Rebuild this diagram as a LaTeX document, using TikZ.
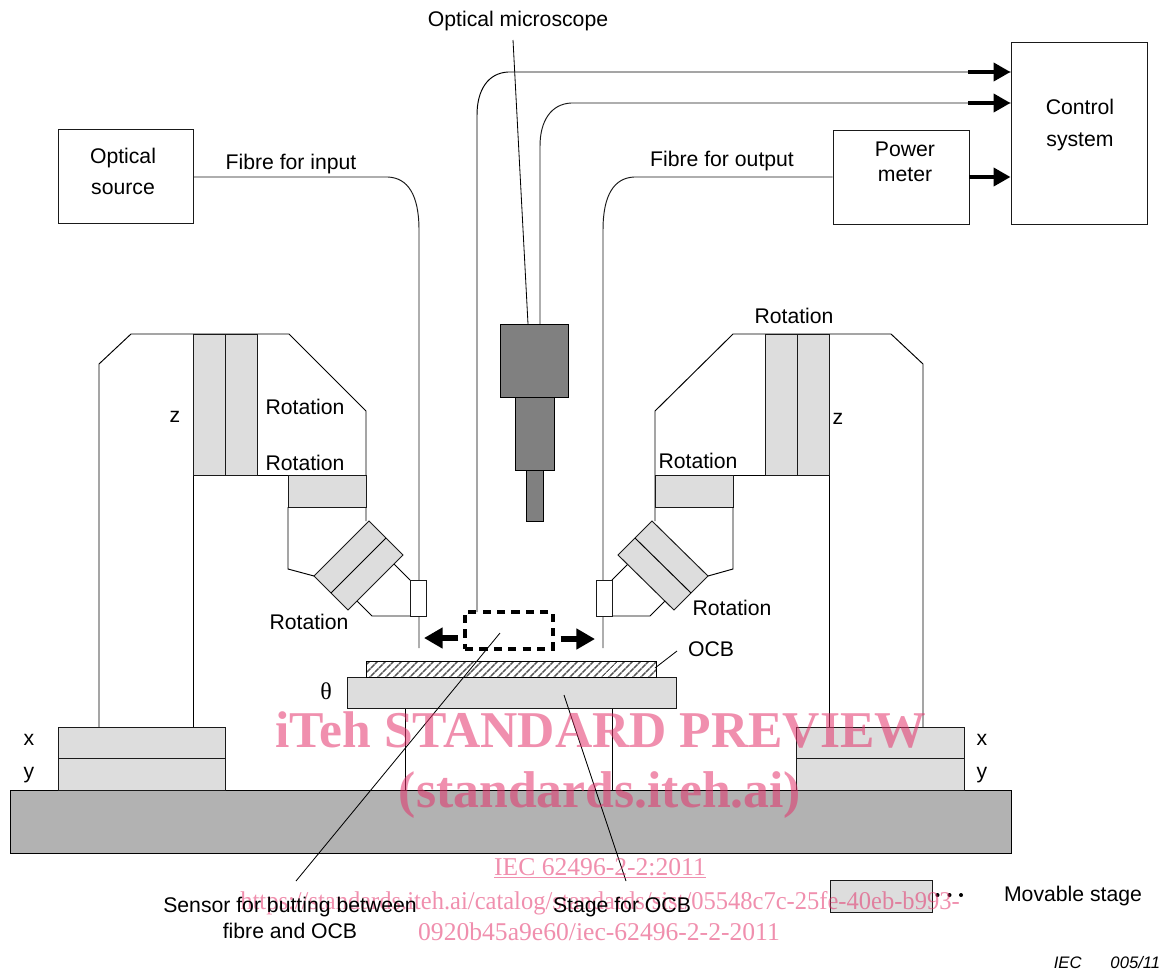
\documentclass[tikz,border=0pt]{standalone}
\usepackage{fontspec}
\setmainfont{Liberation Sans}
\newfontfamily\wmfont{Liberation Serif}
\usetikzlibrary{arrows.meta,patterns,patterns.meta}
\definecolor{stagegrey}{HTML}{DDDDDD}
\definecolor{basegrey}{HTML}{B2B2B2}
\definecolor{scopemid}{HTML}{808080}
\definecolor{wmpink}{HTML}{E3336B}
\definecolor{ink}{HTML}{1A1A1A}
\definecolor{hatchgrey}{HTML}{555555}
\tikzset{
  lab/.style={inner sep=0pt,font=\fontsize{15.9}{19}\selectfont,text=black},
  box/.style={draw=ink,line width=.72pt,fill=white,inner sep=0pt},
  movable/.style={draw=ink,line width=.72pt,fill=stagegrey},
  fibre/.style={draw=ink,line width=.72pt},
  leader/.style={draw=black,line width=.62pt},
  bigarrow/.style={draw=black,line width=3pt,-{Triangle[length=12.75pt,width=13.5pt,fill=black]}},
  fatarrow/.style={draw=black,line width=4.8pt,-{Triangle[length=14pt,width=15pt,fill=black]}},
  wm/.style={inner sep=0pt,text=wmpink,text opacity=.55},
}
\begin{document}
\begin{tikzpicture}[x=.75pt,y=-.75pt,line width=.72pt]
\useasboundingbox (0,0) rectangle (1163,972);
% base and legs
\draw[fill=basegrey] (10,790) rectangle (1011,853);
\draw (405,708) -- (405,790) (612,708) -- (612,790);
% left frame
\draw (99,727) -- (99,364) -- (131,334) -- (289,334) -- (366,411) -- (366,521);
\draw (193,334) -- (193,727) (193,475) -- (366,475);
\draw[movable] (193,334) rectangle (225,475);
\draw[movable] (225,334) rectangle (257,475);
\draw[movable] (288,475) rectangle (366,507);
\draw (288,507) -- (288,569) -- (314,576);
\draw (394,564) -- (410,580) (357,601) -- (372,616) -- (410,616);
\draw[movable] (369,521) -- (403,555) -- (348,610) -- (314,576) -- cycle;
\draw (386,538) -- (331,593);
% right frame
\draw (923,727) -- (923,364) -- (891,334) -- (733,334) -- (655,411) -- (655,521);
\draw (829,334) -- (829,727) (829,475) -- (655,475);
\draw[movable] (765,334) rectangle (797,475);
\draw[movable] (797,334) rectangle (829,475);
\draw[movable] (655,475) rectangle (733,507);
\draw (733,507) -- (733,569) -- (708,576);
\draw (628,564) -- (612,580) (665,601) -- (650,616) -- (612,616);
\draw[movable] (652,521) -- (618,555) -- (674,610) -- (708,576) -- cycle;
\draw (635,538) -- (691,593);
% stages
\draw[movable] (58,727) rectangle (225,758);
\draw[movable] (58,758) rectangle (225,790);
\draw[movable] (796,727) rectangle (964,758);
\draw[movable] (796,758) rectangle (964,790);
\draw[movable] (347,677) rectangle (676,708);
\draw[pattern={Lines[angle=45,distance=4pt,line width=1.3pt]},pattern color=hatchgrey] (366,661) rectangle (656,677);
% microscope
\draw[fill=scopemid] (500,324) rectangle (568,397);
\draw[fill=scopemid] (515,397) rectangle (554,470);
\draw[fill=scopemid] (526,470) rectangle (543,521);
% fibres
\coordinate (inEnd) at (419,648);
\coordinate (outEnd) at (603,648);
\coordinate (scopeA) at (477,612);
\coordinate (scopeB) at (540,324);
\node[box,minimum width=101.25pt,minimum height=70.5pt] (source) at (125.5,176) {};
\node[box,minimum width=102pt,minimum height=70.5pt] (power) at (901,177) {};
\node[box,minimum width=102pt,minimum height=136.5pt] (control) at (1079,133) {};
\draw[fibre] (source.east |- 0,177) -- (388,177) .. controls (408,178) and (419,195) .. (419,230) -- (inEnd);
\draw[fibre] (power.west |- 0,177) -- (634,177) .. controls (614,178) and (603,195) .. (603,230) -- (outEnd);
\draw[fibre,draw=black] (scopeA) -- (477,115) .. controls (477,90) and (488,73) .. (508,72) -- (control.west |- 0,72);
\draw[fibre] (scopeB) -- (540,146) .. controls (540,121) and (551,104) .. (571,103) -- (control.west |- 0,103);
% boxes on the fibres
\node[box,minimum width=12pt,minimum height=27pt] (sl) at (418,598) {};
\node[box,minimum width=12pt,minimum height=27pt] (sr) at (604,598) {};
\node[draw=black,line width=2.5pt,dash pattern=on 6.2pt off 4.6pt,minimum width=66pt,minimum height=27.75pt,inner sep=0pt] (sensor) at (509,630.5) {};
\node[movable,minimum width=76.5pt,minimum height=24pt,inner sep=0pt] (legend) at (881,896) {};
\fill[black] (937.5,895) circle[radius=2] (949.5,895) circle[radius=2] (961,895) circle[radius=2];
% thick arrows
\coordinate (a1) at (968,72); \coordinate (a2) at (968,103); \coordinate (a3) at (power.east |- 0,177);
\draw[bigarrow] (a1) -- (control.west |- a1);
\draw[bigarrow] (a2) -- (control.west |- a2);
\draw[bigarrow] (a3) -- (control.west |- a3);
\coordinate (lt) at (424,638); \coordinate (rt) at (595,639);
\draw[fatarrow] (sensor.west |- lt) ++(-5,0) -- (lt);
\draw[fatarrow] (sensor.east |- rt) ++(6,0) -- (rt);
% leaders
\coordinate (pm) at (513,40);
\coordinate (pocb) at (655,668); \coordinate (qocb) at (677,651);
\coordinate (ps) at (500,633); \coordinate (qs) at (296,881);
\coordinate (pt) at (564,695); \coordinate (qt) at (626,881);
\draw[leader] (pm) -- (528,324);
\draw[leader] (pocb) -- (qocb);
\draw[leader] (ps) -- (qs);
\draw[leader] (pt) -- (qt);
% watermark
\node[wm,font=\wmfont\bfseries\fontsize{38.7}{46}\selectfont] (w1) at (601,730) {iTeh STANDARD PREVIEW};
\node[wm,font=\wmfont\bfseries\fontsize{38.8}{46}\selectfont] (w2) at (600,795) {(standards.iteh.ai)};
\node[wm,font=\wmfont\fontsize{19.2}{23}\selectfont] (w3) at (600,868) {\underline{IEC 62496-2-2:2011}};
\node[wm,font=\wmfont\fontsize{19.2}{23}\selectfont] (w4) at (600,903) {\scalebox{.958}[1]{https://standards.iteh.ai/catalog/standards/sist/05548c7c-25fe-40eb-b993-}};
\node[wm,font=\wmfont\fontsize{19.2}{23}\selectfont] (w5) at (599,932) {0920b45a9e60/iec-62496-2-2-2011};
% labels
\node[lab,align=center] (ls) at (123,171.5) {Optical\\[4.6pt]source};
\node[lab] (lm) at (518,21) {Optical microscope};
\node[lab] (lfi) at (291,164) {Fibre for input};
\node[lab] (lfo) at (722,161) {Fibre for output};
\node[lab,align=center] (lp) at (905,161.5) {Power\\meter};
\node[lab,align=center] (lc) at (1080,125) {Control\\[4.6pt]system};
\node[lab] (r1) at (794,316) {Rotation};
\node[lab] (r2) at (305,407) {Rotation};
\node[lab] (r3) at (305,463) {Rotation};
\node[lab] (r4) at (698,461) {Rotation};
\node[lab] (r5) at (309,622) {Rotation};
\node[lab] (r6) at (732,608) {Rotation};
\node[lab] (z1) at (175,417) {z};
\node[lab] (z2) at (838,419) {z};
\node[lab] (x1) at (29,740) {x};
\node[lab] (y1) at (29,775) {y};
\node[lab] (x2) at (982,740) {x};
\node[lab] (y2) at (982,775) {y};
\node[lab,font=\wmfont\fontsize{18}{20}\selectfont] (th) at (326,691) {θ};
\node[lab] (ocb) at (711,649) {OCB};
\node[lab,align=center] (ls2) at (290,918) {Sensor for butting between\\fibre and OCB};
\node[lab] (ls3) at (622,907) {Stage for OCB};
\node[lab] (ls4) at (1073,896) {Movable stage};
\node[lab,font=\itshape\fontsize{12.5}{14}\selectfont] (iec) at (1107,963) {IEC\hspace{21.7pt}005/11};
\end{tikzpicture}
\end{document}
